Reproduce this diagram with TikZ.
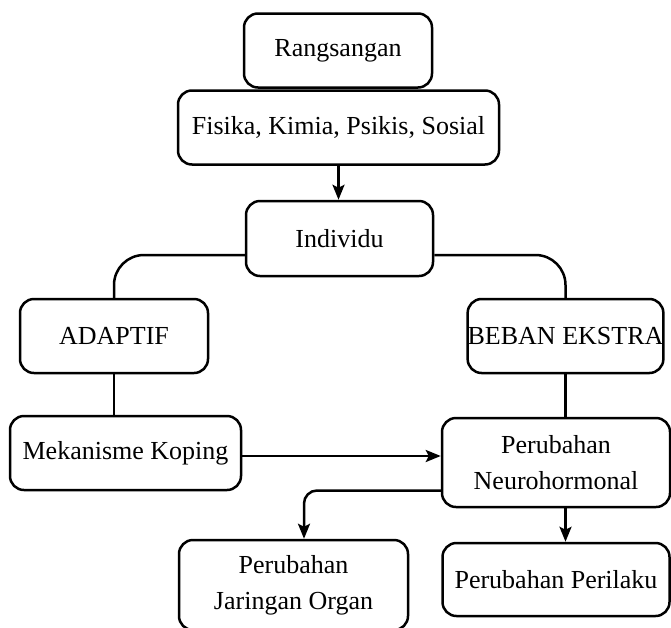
\documentclass[tikz,border=0pt]{standalone}
\usepackage{fontspec}
\setmainfont{Liberation Serif}
\usetikzlibrary{arrows.meta}
\begin{document}
\begin{tikzpicture}[x=1pt,y=-1pt,
  box/.style={draw, line width=2.5pt, rounded corners=14pt, fill=white,
    inner sep=0pt, align=center, font=\fontsize{26}{36}\selectfont},
  link/.style={line width=2.5pt},
  arr/.style={link, -{Stealth[length=15pt,width=12pt,inset=3pt]}}]
\useasboundingbox (0,0) rectangle (671,627);

% boxes
\node[box, minimum width=188pt, minimum height=74pt] (rang)  at (338,50.5)   {Rangsangan};
\node[box, minimum width=321pt, minimum height=74pt] (fis)   at (338.5,127.5) {Fisika, Kimia, Psikis, Sosial};
\node[box, minimum width=187pt, minimum height=75pt] (ind)   at (339.5,238.5) {Individu};
\node[box, minimum width=188pt, minimum height=74pt] (adap)  at (114,336)    {ADAPTIF};
\node[box, minimum width=193pt, minimum height=74pt] (beban) at (565.5,336)  {BEBAN EKSTRA};
\node[box, minimum width=231pt, minimum height=74pt] (mek)   at (125.5,453)  {Mekanisme Koping};
\node[box, minimum width=228pt, minimum height=89pt] (neuro) at (556,462.5)  {Perubahan\\Neurohormonal};
\node[box, minimum width=229pt, minimum height=90pt] (jar)   at (293.5,585)  {Perubahan\\Jaringan Organ};
\node[box, minimum width=227pt, minimum height=73pt] (peril) at (556,579.5)  {Perubahan Perilaku};

% connectors
\draw[arr] (fis.south) -- (fis.south |- ind.north);
\draw[link, rounded corners=30pt] ([yshift=-16.5pt]ind.west) -| (adap.north);
\draw[link, rounded corners=30pt] ([yshift=-16.5pt]ind.east) -| (beban.north);
\draw[link] (adap.south) -- (adap.south |- mek.north);
\draw[link] (beban.south) -- (beban.south |- neuro.north);
\draw[arr] ([yshift=-3pt]mek.east) -- ([yshift=-3pt]mek.east -| neuro.west);
\draw[arr, rounded corners=13pt] ([yshift=-28pt]neuro.west) -| ([xshift=10.5pt]jar.north);
\draw[arr] (beban.south |- neuro.south) -- (beban.south |- peril.north);
\end{tikzpicture}
\end{document}
